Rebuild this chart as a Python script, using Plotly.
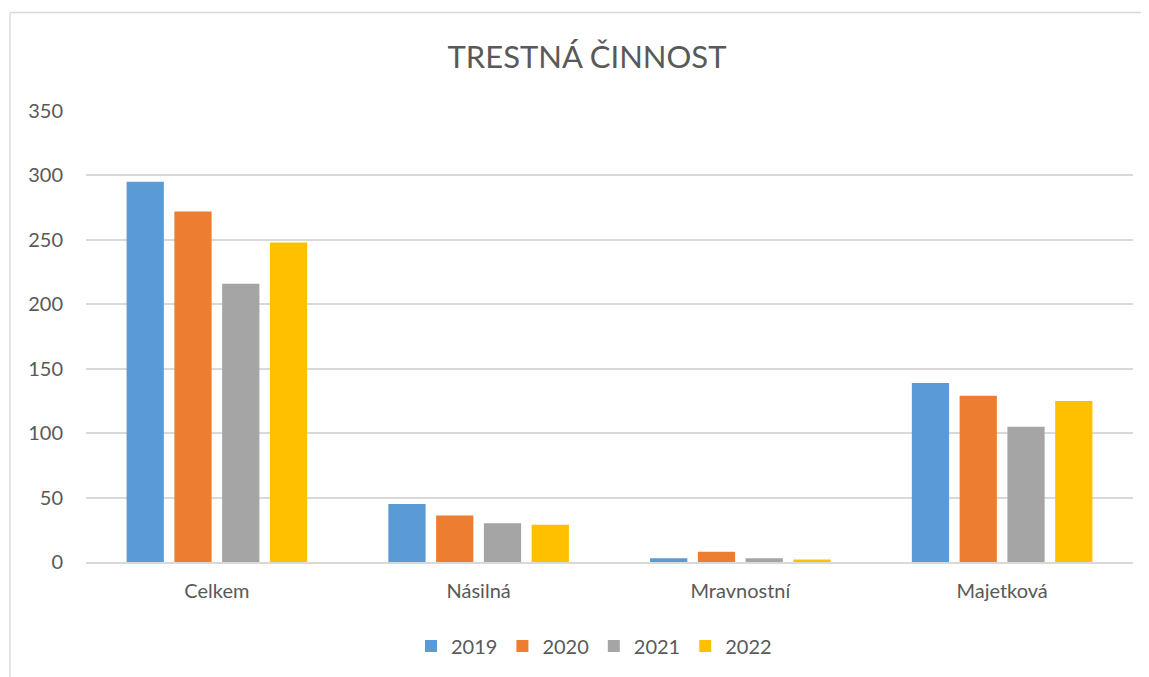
import plotly.graph_objects as go

categories = ["Celkem", "Násilná", "Mravnostní", "Majetková"]
years = ["2019", "2020", "2021", "2022"]
v2019 = [295, 45, 3, 139]
v2020 = [272, 36, 8, 129]
v2021 = [216, 30, 3, 105]
v2022 = [248, 29, 2, 125]
colors = ["#5B9BD5", "#ED7D31", "#A5A5A5", "#FFC000"]
series = [v2019, v2020, v2021, v2022]

OFF = 8  # page body margin
W, H = 1149 - OFF, 677 - OFF
ml, mr, mt, mb = 86 - OFF, 16, 111 - OFF, 115

fig = go.Figure()
for y, vals, c in zip(years, series, colors):
    fig.add_trace(go.Bar(x=categories, y=vals, name=y, marker=dict(color=c, line=dict(width=0))))

pw = W - ml - mr
ph = H - mt - mb
bx0 = (10 - OFF - ml) / pw
by1 = (H - (12.5 - OFF) - mb) / ph
fig.add_shape(type="line", xref="paper", yref="paper", x0=bx0, x1=(W - ml) / pw, y0=by1, y1=by1,
              line=dict(color="#D9D9D9", width=1.3), layer="below")
fig.add_shape(type="line", xref="paper", yref="paper", x0=bx0, x1=bx0, y0=-mb / ph, y1=by1,
              line=dict(color="#D9D9D9", width=1.3), layer="below")

fig.update_layout(
    width=W, height=H,
    margin=dict(l=ml, r=mr, t=mt, b=mb),
    paper_bgcolor="white", plot_bgcolor="white",
    font=dict(family="Lato, Carlito, Calibri, sans-serif", color="#595959", size=20),
    title=dict(text="TRESTNÁ ČINNOST", x=(587 - OFF) / W, xref="container", xanchor="center",
               y=1 - (57 - OFF) / H, yanchor="middle",
               font=dict(size=31, color="#595959")),
    barmode="group", bargap=0.27, bargroupgap=0.22,
    showlegend=True,
    legend=dict(orientation="h", x=(594 - 86) / 1047, xanchor="center", xref="paper", y=-(646 - 562) / ph,
                yanchor="middle", font=dict(size=20, color="#595959"), traceorder="normal", itemwidth=30),
    xaxis=dict(showgrid=False, showline=True, linecolor="#D9D9D9", linewidth=1.5, ticks="",
               ticklabelstandoff=10, tickfont=dict(size=20, color="#595959")),
    yaxis=dict(range=[0, 350], dtick=50, showgrid=True, gridcolor="#D9D9D9", gridwidth=1.5,
               zeroline=False, showline=False, ticks="", ticklabelstandoff=22,
               tickfont=dict(size=20, color="#595959")),
)
fig.write_html("out.html")
